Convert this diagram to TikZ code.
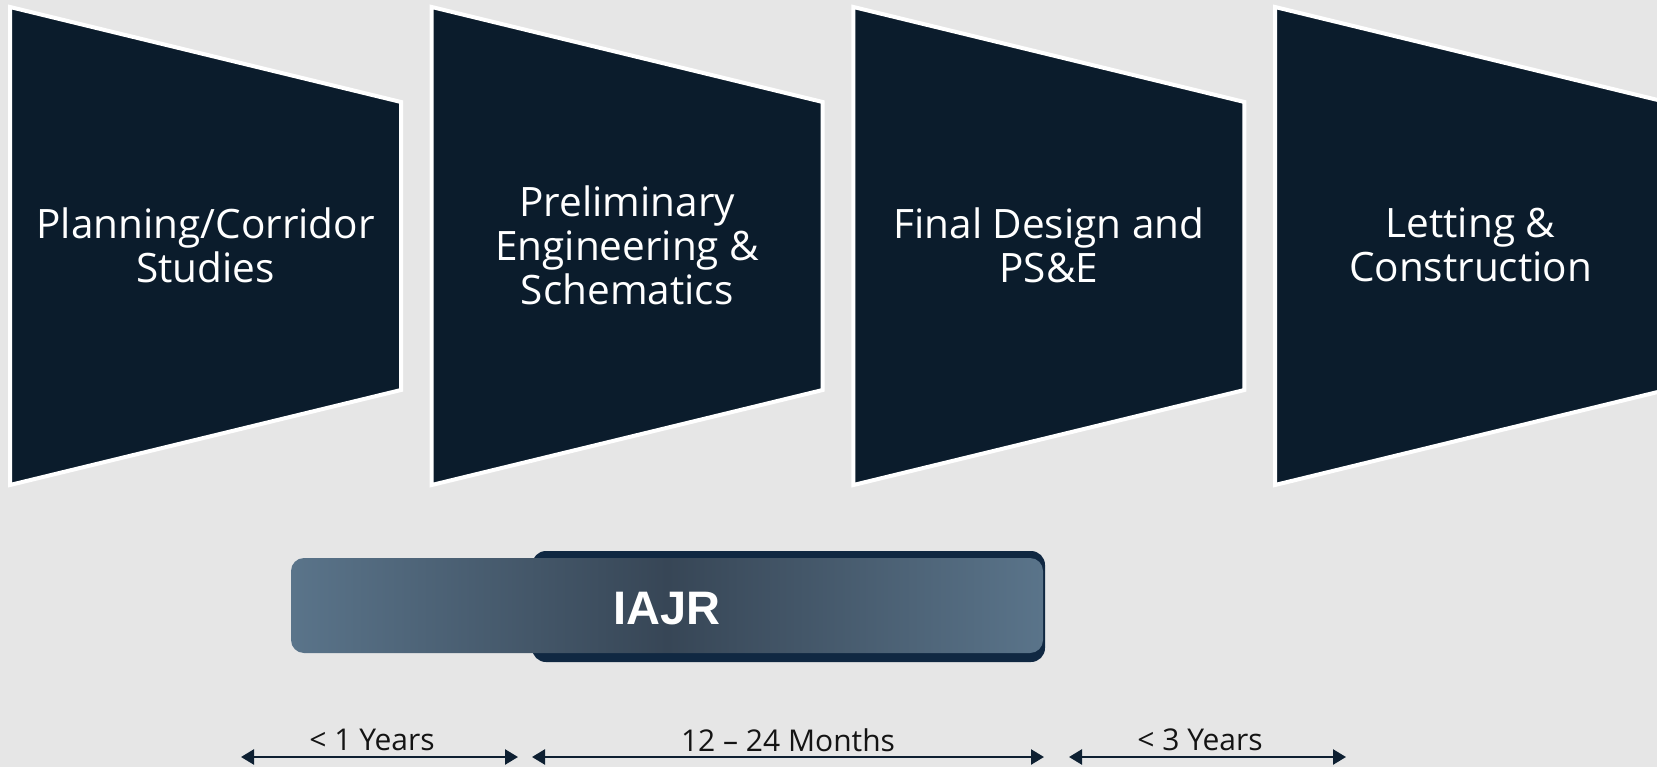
\documentclass[tikz,border=0pt]{standalone}
\usepackage{fontspec}
\setmainfont{Open Sans}
\newfontfamily\arialfont{Liberation Sans}
\usetikzlibrary{arrows.meta}
\definecolor{bg}{RGB}{230,230,230}
\definecolor{navy}{RGB}{11,28,44}
\definecolor{barback}{RGB}{16,40,66}
\definecolor{barlight}{RGB}{90,116,138}
\definecolor{bardark}{RGB}{55,70,86}
\definecolor{arrowc}{RGB}{14,32,50}
\tikzset{
  phase/.style={fill=navy, draw=white, line width=4pt, line join=miter},
  phasetext/.style={text=white, font=\fontsize{40.5}{44}\selectfont, align=center},
  span/.style={draw=arrowc, line width=2.5pt, {Triangle[length=13pt,width=15pt]}-{Triangle[length=13pt,width=15pt]}},
  spanlabel/.style={font=\fontsize{30}{32}\selectfont, text=black!92},
  iajrtext/.style={font=\arialfont\bfseries\fontsize{47}{50}\selectfont, text=white}
}
\begin{document}
\begin{tikzpicture}[x=1pt,y=-1pt]
\fill[bg] (0,0) rectangle (1657,767);
\useasboundingbox (0,0) rectangle (1657,767);
\clip (0,0) rectangle (1657,767);

% phases
\draw[phase] (10,7) -- (401,102) -- (401,390) -- (10,485) -- cycle;
\node[phasetext] (t1) at (205.5,245) {Planning/Corridor\\Studies};

\draw[phase] (431.7,7) -- (822.7,102) -- (822.7,390) -- (431.7,485) -- cycle;
\node[phasetext] (t2) at (627.2,245) {Preliminary\\Engineering \&\\Schematics};

\draw[phase] (853.4,7) -- (1244.4,102) -- (1244.4,390) -- (853.4,485) -- cycle;
\node[phasetext] (t3) at (1048.9,245) {Final Design and\\PS\&E};

\draw[phase] (1275,7) -- (1666,102) -- (1666,390) -- (1275,485) -- cycle;
\node[phasetext] (t4) at (1470.5,245) {Letting \&\\Construction};

% IAJR bar
\fill[barback, rounded corners=14pt] (532,551) rectangle (1045,662);
\shade[rounded corners=13pt, left color=barlight, right color=barlight, middle color=bardark] (291,558) rectangle (1043,653);
\node[iajrtext] (iajr) at (667,609) {IAJR};

% spans
\coordinate (a1l) at (241,757);
\coordinate (a1r) at (518,757);
\coordinate (a2l) at (532,757);
\coordinate (a2r) at (1044,757);
\coordinate (a3l) at (1069,757);
\coordinate (a3r) at (1346,757);
\draw[span] (a1l) -- (a1r);
\draw[span] (a2l) -- (a2r);
\draw[span] (a3l) -- (a3r);
\node[spanlabel] (l1) at (372,740) {< 1 Years};
\node[spanlabel] (l2) at (788,740) {12 -- 24 Months};
\node[spanlabel] (l3) at (1200,740) {< 3 Years};
\end{tikzpicture}
\end{document}
